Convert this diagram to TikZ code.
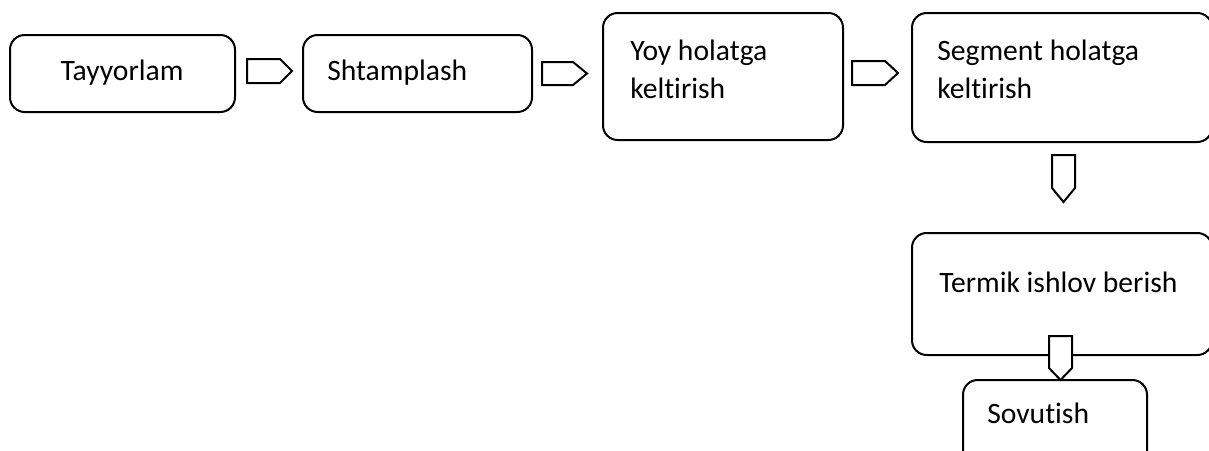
\documentclass[tikz,border=0pt]{standalone}
\usepackage{fontspec}
\setmainfont[Ligatures={NoCommon}]{Carlito}
\begin{document}
\begin{tikzpicture}[x=0.75pt,y=-0.75pt,
  stepbox/.style={draw=black,line width=1.5pt,rounded corners=11pt,fill=white},
  label/.style={inner sep=0pt,anchor=base west,font=\fontsize{22.2}{27.8}\selectfont,align=left},
  blockarrow/.style={draw=black,line width=1.5pt,fill=white,line join=miter}]
\useasboundingbox (0,0) rectangle (1209,450);
\clip (0,0) rectangle (1209,450);

% process boxes
\node[stepbox,minimum width=225*0.75pt,minimum height=77*0.75pt] (tay) at (122.5,73.5) {};
\node[stepbox,minimum width=229*0.75pt,minimum height=77*0.75pt] (sht) at (417.5,73.5) {};
\node[stepbox,minimum width=240*0.75pt,minimum height=127*0.75pt] (yoy) at (723,76.5) {};
\node[stepbox,minimum width=300*0.75pt,minimum height=129*0.75pt] (seg) at (1062,77.5) {};
\node[stepbox,minimum width=300*0.75pt,minimum height=122*0.75pt] (ter) at (1062,294) {};
\node[stepbox,minimum width=184*0.75pt,minimum height=90*0.75pt] (sov) at (1055,425) {};

% texts (a two-line node sits on the baseline of its last line)
\node[label,anchor=base] (tTay) at (122,80) {Tayyorlam};
\node[label] (tSht) at (327,80) {Shtamplash};
\node[label] (tYoy) at (630,98) {Yoy holatga\\keltirish};
\node[label] (tSeg) at (937,98) {Segment holatga\\keltirish};
\node[label] (tTer) at (939,292) {Termik ishlov berish};
\node[label] (tSov) at (987,423) {Sovutish};

% block arrows between the steps
\draw[blockarrow] (247,59) -- (280,59) -- (292,71) -- (280,83) -- (247,83) -- cycle;
\draw[blockarrow] (542,62) -- (573,62) -- (587,73.5) -- (573,85) -- (542,85) -- cycle;
\draw[blockarrow] (852,61) -- (885,61) -- (898,73) -- (885,85) -- (852,85) -- cycle;
\draw[blockarrow] (1052,155) -- (1075,155) -- (1075,188) -- (1063.5,202) -- (1052,188) -- cycle;
\draw[blockarrow] (1049,336) -- (1072,336) -- (1072,368) -- (1060.5,380) -- (1049,368) -- cycle;
\end{tikzpicture}
\end{document}
